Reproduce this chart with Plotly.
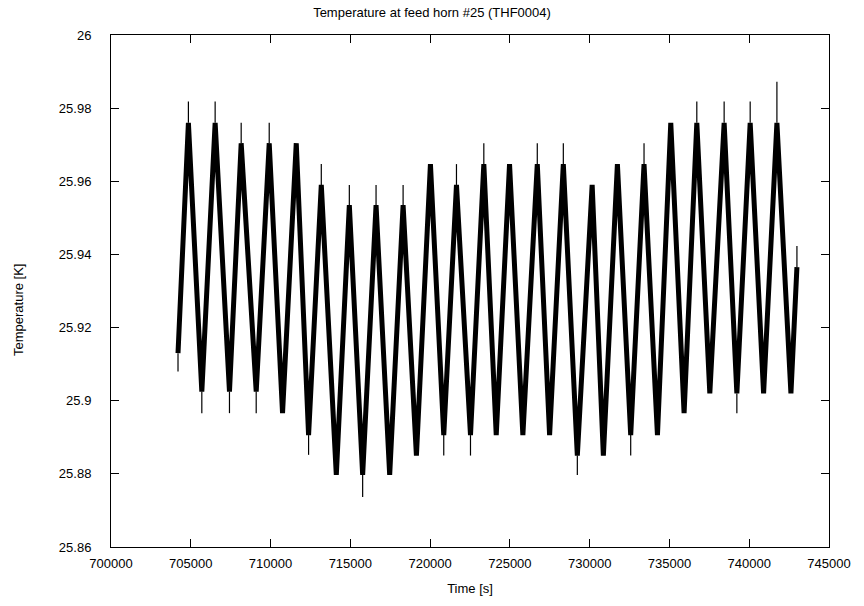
import plotly.graph_objects as go

# --- data ---
start_time = [704200]
start_band = [25.9130]
start_spike = [25.9080]

peak_time = [704851, 706527, 708159, 709916, 711611, 713180, 714937, 716612,
             718307, 720020, 721652, 723366, 724978, 726717, 728349, 730156,
             731738, 733407, 735083, 736715, 738428, 740060, 741735]
peak_band = [25.9760, 25.9760, 25.9704, 25.9704, 25.9704, 25.9590, 25.9535, 25.9535,
             25.9535, 25.9647, 25.9590, 25.9647, 25.9647, 25.9647, 25.9647, 25.9590,
             25.9647, 25.9647, 25.9760, 25.9760, 25.9760, 25.9760, 25.9760]
peak_spike = [25.9818, 25.9818, 25.9760, 25.9760, 25.9704, 25.9647, 25.9590, 25.9590,
              25.9590, 25.9647, 25.9647, 25.9704, 25.9647, 25.9704, 25.9704, 25.9590,
              25.9647, 25.9704, 25.9760, 25.9818, 25.9818, 25.9818, 25.9872]

trough_time = [705692, 707425, 709100, 710751, 712383, 714121, 715772, 717466,
               719142, 720855, 722531, 724144, 725813, 727489, 729227, 730859,
               732572, 734248, 735918, 737530, 739225, 740901, 742614]
trough_band = [25.9025, 25.9025, 25.9025, 25.8966, 25.8906, 25.8797, 25.8797, 25.8797,
               25.8850, 25.8906, 25.8906, 25.8906, 25.8906, 25.8906, 25.8850, 25.8850,
               25.8906, 25.8906, 25.8966, 25.9020, 25.9020, 25.9020, 25.9020]
trough_spike = [25.8966, 25.8966, 25.8966, 25.8966, 25.8852, 25.8797, 25.8737, 25.8797,
                25.8850, 25.8850, 25.8850, 25.8906, 25.8906, 25.8906, 25.8797, 25.8850,
                25.8850, 25.8906, 25.8966, 25.9020, 25.8966, 25.9020, 25.9020]

end_time = [742990]
end_band = [25.9365]
end_spike = [25.9423]

x_tick_vals = [700000, 705000, 710000, 715000, 720000, 725000, 730000, 735000, 740000, 745000]
x_tick_text = ["700000", "705000", "710000", "715000", "720000", "725000", "730000", "735000", "740000", "745000"]
y_tick_vals = [25.86, 25.88, 25.90, 25.92, 25.94, 25.96, 25.98, 26.00]
y_tick_text = ["25.86", "25.88", "25.9", "25.92", "25.94", "25.96", "25.98", "26"]

# --- build the band (zig-zag) and the thin spikes ---
band_x = list(start_time)
band_y = list(start_band)
for pt, pb, tt, tb in zip(peak_time, peak_band, trough_time, trough_band):
    band_x += [pt, tt]
    band_y += [pb, tb]
band_x += end_time
band_y += end_band

spike_x, spike_y = [], []
for t, b, s in zip(start_time + peak_time + trough_time + end_time,
                   start_band + peak_band + trough_band + end_band,
                   start_spike + peak_spike + trough_spike + end_spike):
    spike_x += [t, t, None]
    spike_y += [b, s, None]

FONT = "Liberation Sans, Arial, Helvetica, sans-serif"

fig = go.Figure()
fig.add_trace(go.Scatter(x=band_x, y=band_y, mode="lines",
                         line=dict(color="black", width=5), hoverinfo="skip"))
fig.add_trace(go.Scatter(x=spike_x, y=spike_y, mode="lines",
                         line=dict(color="black", width=1.2), hoverinfo="skip"))

fig.update_layout(
    width=864, height=606,
    margin=dict(l=111, r=35, t=35, b=59),
    paper_bgcolor="white", plot_bgcolor="white",
    showlegend=False,
    font=dict(family=FONT, size=13, color="black"),
    title=dict(text="Temperature at feed horn #25 (THF0004)", x=0.5, xanchor="center",
               y=1 - 12 / 606, yref="container", yanchor="middle",
               font=dict(family=FONT, size=13, color="black")),
)
fig.update_xaxes(range=[700000, 745000], tickvals=x_tick_vals, ticktext=x_tick_text,
                 showline=True, linecolor="black", linewidth=1, mirror="ticks",
                 ticks="inside", ticklen=8, tickcolor="black", tickwidth=1,
                 showgrid=False, zeroline=False, ticklabelstandoff=4,
                 title=dict(text="Time [s]", standoff=14, font=dict(size=13)))
fig.update_yaxes(range=[25.86, 26.0], tickvals=y_tick_vals, ticktext=y_tick_text,
                 showline=True, linecolor="black", linewidth=1, mirror="ticks",
                 ticks="inside", ticklen=8, tickcolor="black", tickwidth=1,
                 showgrid=False, zeroline=False, ticklabelstandoff=16)
fig.add_annotation(text="Temperature [K]", textangle=-90, xref="paper", yref="paper",
                   x=-111 / 718 + 18 / 718, y=(547 - 310) / 512, xanchor="center", yanchor="middle",
                   showarrow=False, font=dict(family=FONT, size=13, color="black"))

fig.write_html("out.html", config={"displayModeBar": False},
               post_script="document.body.style.margin='0';")
